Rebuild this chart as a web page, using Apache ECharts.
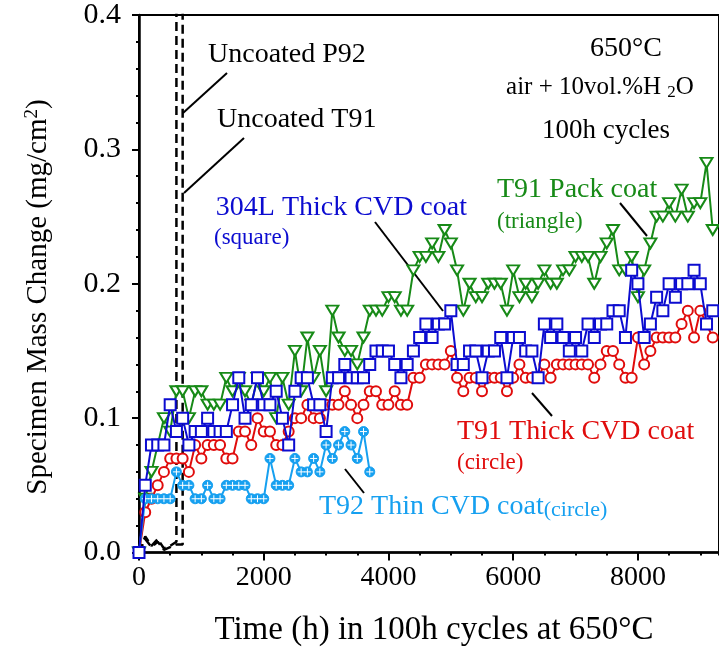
<!DOCTYPE html>
<html><head><meta charset="utf-8">
<script src="https://cdn.jsdelivr.net/npm/echarts@6/dist/echarts.min.js"></script>
<style>html,body{margin:0;padding:0;background:#fff}#c{width:719px;height:648px}</style>
</head><body><div id="c"></div>
<script>
const hours = [0,100,200,300,400,500,600,700,800,900,1000,1100,1200,1300,1400,1500,1600,1700,1800,1900,2000,2100,2200,2300,2400,2500,2600,2700,2800,2900,3000,3100,3200,3300,3400,3500,3600,3700,3800,3900,4000,4100,4200,4300,4400,4500,4600,4700,4800,4900,5000,5100,5200,5300,5400,5500,5600,5700,5800,5900,6000,6100,6200,6300,6400,6500,6600,6700,6800,6900,7000,7100,7200,7300,7400,7500,7600,7700,7800,7900,8000,8100,8200,8300,8400,8500,8600,8700,8800,8900,9000,9100,9200];
const t91Pack = [0,.04,.06,.08,.10,.09,.12,.12,.10,.12,.12,.11,.11,.11,.13,.12,.13,.12,.11,.13,.12,.13,.10,.13,.11,.15,.12,.16,.13,.15,.12,.18,.16,.15,.15,.14,.16,.18,.18,.18,.19,.19,.18,.18,.21,.22,.22,.23,.22,.24,.23,.21,.18,.20,.19,.19,.20,.20,.20,.18,.21,.19,.20,.19,.20,.21,.20,.20,.21,.21,.22,.22,.22,.20,.22,.23,.24,.21,.21,.22,.19,.21,.23,.25,.25,.26,.25,.27,.25,.26,.26,.29,.24];
const t91Thick = [0,.03,.04,.05,.06,.07,.07,.07,.06,.08,.07,.08,.08,.08,.07,.07,.09,.09,.08,.10,.09,.09,.08,.08,.09,.10,.10,.11,.10,.10,.11,.11,.11,.12,.11,.10,.11,.12,.12,.11,.11,.12,.11,.11,.13,.13,.14,.14,.14,.14,.15,.13,.12,.13,.13,.12,.13,.13,.13,.12,.13,.14,.13,.13,.13,.14,.13,.14,.14,.14,.14,.14,.14,.13,.14,.15,.15,.14,.13,.13,.16,.14,.15,.16,.16,.16,.16,.17,.18,.16,.18,.17,.16];
const s304Thick = [0,.05,.08,.08,.08,.11,.09,.10,.08,.09,.09,.10,.09,.09,.09,.11,.13,.10,.11,.13,.11,.11,.12,.10,.08,.12,.13,.13,.11,.11,.09,.13,.13,.14,.13,.13,.13,.14,.15,.15,.15,.14,.13,.14,.15,.16,.17,.16,.17,.17,.18,.14,.14,.15,.15,.13,.15,.15,.16,.13,.16,.16,.15,.15,.13,.17,.16,.17,.16,.15,.16,.15,.17,.16,.17,.17,.18,.18,.16,.21,.20,.16,.17,.19,.18,.20,.19,.20,.20,.21,.20,.17,.18];
const t92Thin = [0,.04,.04,.04,.04,.04,.06,.05,.05,.04,.04,.05,.04,.04,.05,.05,.05,.05,.04,.04,.04,.07,.05,.05,.05,.07,.06,.06,.07,.06,.08,.07,.08,.09,.08,.07,.09,.06];
const uncoatedT91 = [[0,0],[100,0.012],[200,0.005],[300,0.01],[400,0.003],[500,0.005],[600,0.008],[600,0.6]];
const uncoatedP92 = [[0,0],[100,0.01],[200,0.004],[300,0.008],[400,0.002],[500,0.004],[600,0.006],[700,0.006],[700,0.6]];
const xTicks = [0,2000,4000,6000,8000];

const FONT = 'Liberation Serif';
const pair = arr => arr.map((v,i)=>[hours[i], v]);
const GREEN='#178a17', RED='#e00c0c', BLUE='#0c0cd0', CYAN='#16a0f0';

const chart = echarts.init(document.getElementById('c'), null, {renderer:'canvas'});
const axisBase = {min:0, max:9300, splitLine:{show:false}};
chart.setOption({
  animation:false,
  backgroundColor:'#fff',
  grid:{left:139, top:15, width:581, height:537.5, show:true, borderColor:'#000', borderWidth:2, backgroundColor:'transparent'},
  xAxis:[
    Object.assign({type:'value', interval:2000,
      axisLine:{show:true, lineStyle:{color:'#000', width:2.5}},
      axisTick:{show:true, length:8, lineStyle:{color:'#000', width:2}},
      axisLabel:{show:true, color:'#000', fontFamily:FONT, fontSize:28, margin:11, showMaxLabel:false,
        formatter: v => xTicks.includes(v) ? String(v) : ''}
    }, axisBase),
    Object.assign({type:'value', interval:500, gridIndex:0, position:'bottom',
      axisLine:{show:false}, axisLabel:{show:false},
      axisTick:{show:true, length:3, lineStyle:{color:'#000', width:2}}
    }, axisBase)
  ],
  yAxis:{type:'value', min:0, max:0.4, interval:0.1, splitLine:{show:false},
    axisLine:{show:true, lineStyle:{color:'#000', width:2.5}},
    axisTick:{show:true, length:7, lineStyle:{color:'#000', width:2}},
    minorTick:{show:true, splitNumber:5, length:3, lineStyle:{color:'#000', width:2}},
    axisLabel:{color:'#000', fontFamily:FONT, fontSize:30, margin:18, formatter:v=>v.toFixed(1)}
  },
  series:[
    {type:'line', data:uncoatedT91, symbol:'none', lineStyle:{color:'#000', width:2.5, type:[9,5]}, z:1},
    {type:'line', data:uncoatedP92, symbol:'none', lineStyle:{color:'#000', width:2.5, type:[9,5]}, z:1},
    {type:'line', data:pair(t91Pack), symbol:'triangle', symbolRotate:180, symbolSize:[12,10],
      lineStyle:{color:GREEN, width:2}, itemStyle:{color:'#fff', borderColor:GREEN, borderWidth:2}, z:2},
    {type:'line', data:pair(t91Thick), symbol:'circle', symbolSize:10,
      lineStyle:{color:RED, width:2}, itemStyle:{color:'#fff', borderColor:RED, borderWidth:2}, z:3},
    {type:'line', data:pair(t92Thin), symbol:'circle', symbolSize:10,
      lineStyle:{color:CYAN, width:2}, itemStyle:{color:CYAN, borderColor:CYAN, borderWidth:1}, z:4},
    {type:'scatter', data:pair(t92Thin).slice(1), symbol:'path://M0,5L10,5M5,0L5,10', symbolSize:7,
      itemStyle:{color:'none', borderColor:'#fff', borderWidth:1, opacity:1}, z:5, silent:true},
    {type:'line', data:pair(s304Thick), symbol:'rect', symbolSize:11,
      lineStyle:{color:BLUE, width:2}, itemStyle:{color:'#fff', borderColor:BLUE, borderWidth:2}, z:6}
  ],
  graphic:[
    {type:'text', x:38, y:297, rotation:Math.PI/2, style:{text:'Specimen Mass Change (mg/cm{sup|2})', fontFamily:FONT, fontSize:29, fill:'#000', align:'center', verticalAlign:'middle',
      rich:{sup:{fontSize:19, verticalAlign:'top', padding:[0,0,12,0], fontFamily:FONT}}}},
    {type:'text', x:434, y:630, style:{text:'Time (h) in 100h cycles at 650\u00B0C', fontFamily:FONT, fontSize:33, fill:'#000', align:'center', verticalAlign:'middle'}},
    {type:'text', x:626, y:49, style:{text:'650\u00B0C', fontFamily:FONT, fontSize:28, fill:'#000', align:'center', verticalAlign:'middle'}},
    {type:'text', x:600, y:87, style:{text:'air + 10vol.%H {sub|2}O', fontFamily:FONT, fontSize:25, fill:'#000', align:'center', verticalAlign:'middle',
      rich:{sub:{fontSize:17, padding:[12,0,0,0], fontFamily:FONT}}}},
    {type:'text', x:606, y:131, style:{text:'100h cycles', fontFamily:FONT, fontSize:27, fill:'#000', align:'center', verticalAlign:'middle'}},
    {type:'text', x:208, y:55, style:{text:'Uncoated P92', fontFamily:FONT, fontSize:28, fill:'#000', align:'left', verticalAlign:'middle'}},
    {type:'text', x:217, y:120, style:{text:'Uncoated T91', fontFamily:FONT, fontSize:28, fill:'#000', align:'left', verticalAlign:'middle'}},
    {type:'line', shape:{x1:183, y1:113, x2:227, y2:73}, style:{stroke:'#000', lineWidth:2}},
    {type:'line', shape:{x1:184, y1:193, x2:244, y2:138}, style:{stroke:'#000', lineWidth:2}},
    {type:'text', x:467, y:208, style:{text:'304L Thick CVD coat', fontFamily:FONT, fontSize:28, fill:BLUE, align:'right', verticalAlign:'middle'}},
    {type:'text', x:214, y:238, style:{text:'(square)', fontFamily:FONT, fontSize:23, fill:BLUE, align:'left', verticalAlign:'middle'}},
    {type:'line', shape:{x1:375, y1:222, x2:443, y2:311}, style:{stroke:'#000', lineWidth:2}},
    {type:'text', x:497, y:190, style:{text:'T91 Pack coat', fontFamily:FONT, fontSize:28, fill:GREEN, align:'left', verticalAlign:'middle'}},
    {type:'text', x:497, y:222, style:{text:'(triangle)', fontFamily:FONT, fontSize:23, fill:GREEN, align:'left', verticalAlign:'middle'}},
    {type:'line', shape:{x1:620, y1:203, x2:647, y2:236}, style:{stroke:'#000', lineWidth:2}},
    {type:'text', x:457, y:432, style:{text:'T91 Thick CVD coat', fontFamily:FONT, fontSize:28, fill:RED, align:'left', verticalAlign:'middle'}},
    {type:'text', x:457, y:463, style:{text:'(circle)', fontFamily:FONT, fontSize:23, fill:RED, align:'left', verticalAlign:'middle'}},
    {type:'line', shape:{x1:532, y1:393, x2:552, y2:416}, style:{stroke:'#000', lineWidth:2}},
    {type:'text', x:319, y:507, style:{text:'T92 Thin CVD coat{s|(circle)}', fontFamily:FONT, fontSize:28, fill:CYAN, align:'left', verticalAlign:'middle',
      rich:{s:{fontSize:22, fontFamily:FONT, fill:CYAN, padding:[6,0,0,0]}}}},
    {type:'line', shape:{x1:345, y1:469, x2:364, y2:493}, style:{stroke:'#000', lineWidth:2}}
  ]
});
</script></body></html>
